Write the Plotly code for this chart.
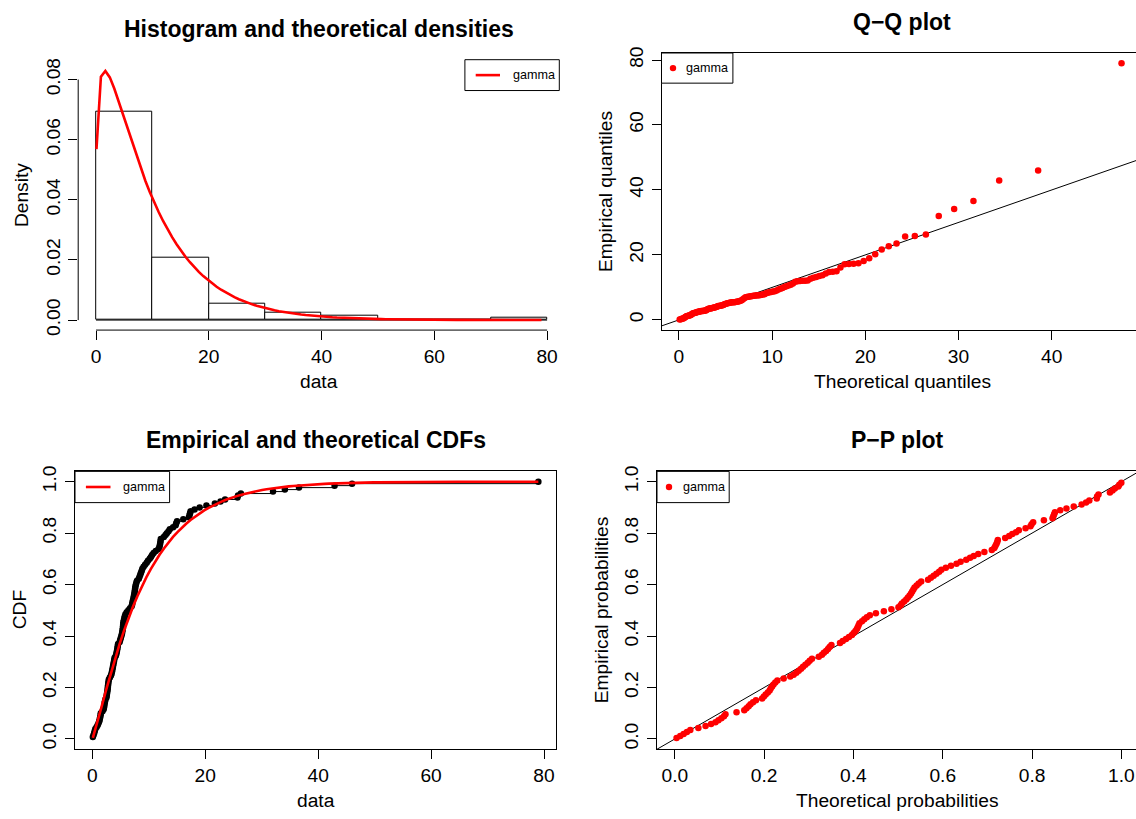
import math
import numpy as np
import plotly.graph_objects as go

# ---------------- data (sorted sample, n = 130) ----------------
data = [0.08, 0.21, 0.32, 0.42, 0.52, 0.75, 0.95, 1.10, 1.22, 1.30,
        1.38, 1.45, 1.49, 1.79, 2.00, 2.06, 2.12, 2.17, 2.24, 2.32,
        2.49, 2.54, 2.59, 2.65, 2.70, 2.73, 2.77, 2.81, 2.86, 2.92,
        3.10, 3.29, 3.39, 3.47, 3.54, 3.61, 3.67, 3.74, 3.81, 3.87,
        3.94, 4.15, 4.25, 4.31, 4.38, 4.44, 4.49, 4.55, 4.83, 4.92,
        5.03, 5.13, 5.23, 5.29, 5.35, 5.40, 5.43, 5.46, 5.49, 5.58,
        5.66, 5.75, 5.86, 6.08, 6.38, 6.67, 6.95, 7.04, 7.09, 7.18,
        7.27, 7.34, 7.41, 7.47, 7.52, 7.57, 7.62, 7.71, 7.80, 7.91,
        8.22, 8.35, 8.48, 8.61, 8.74, 8.85, 9.07, 9.33, 9.62, 9.84,
        10.15, 10.37, 10.58, 10.85, 11.23, 11.71, 11.88, 11.95, 12.02, 12.08,
        12.12, 12.65, 12.95, 13.19, 13.49, 13.72, 14.30, 14.75, 14.85, 15.00,
        16.10, 17.10, 17.20, 17.30, 17.40, 18.10, 19.00, 20.20, 21.70, 22.70,
        23.50, 25.70, 25.80, 26.30, 32.00, 34.10, 36.60, 42.90, 46.00, 79.00]

# fitted gamma parameters
shape_hat = 1.19
rate_hat = 0.1266

hist_breaks = [0, 10, 20, 30, 40, 50, 60, 70, 80]
legend_label = "gamma"

titles = ["Histogram and theoretical densities", "Q\u2212Q plot",
          "Empirical and theoretical CDFs", "P\u2212P plot"]
xlabels = ["data", "Theoretical quantiles", "data", "Theoretical probabilities"]
ylabels = ["Density", "Empirical quantiles", "CDF", "Empirical probabilities"]

ticks1x = [0, 20, 40, 60, 80]
ticks1y = [0.00, 0.02, 0.04, 0.06, 0.08]
ticks2x = [0, 10, 20, 30, 40]
ticks2y = [0, 20, 40, 60, 80]
ticks3x = [0, 20, 40, 60, 80]
ticks3y = [0.0, 0.2, 0.4, 0.6, 0.8, 1.0]
ticks4x = [0.0, 0.2, 0.4, 0.6, 0.8, 1.0]
ticks4y = [0.0, 0.2, 0.4, 0.6, 0.8, 1.0]


# ---------------- gamma distribution helpers ----------------
def reg_lower_gamma(a, x):
    if x <= 0:
        return 0.0
    gln = math.lgamma(a)
    if x < a + 1.0:
        ap = a
        term = 1.0 / a
        s = term
        for _ in range(1000):
            ap += 1.0
            term *= x / ap
            s += term
            if abs(term) < abs(s) * 1e-15:
                break
        return s * math.exp(-x + a * math.log(x) - gln)
    fpmin = 1e-300
    b = x + 1.0 - a
    c = 1.0 / fpmin
    d = 1.0 / b
    h = d
    for i in range(1, 1000):
        an = -i * (i - a)
        b += 2.0
        d = an * d + b
        if abs(d) < fpmin:
            d = fpmin
        c = b + an / c
        if abs(c) < fpmin:
            c = fpmin
        d = 1.0 / d
        dl = d * c
        h *= dl
        if abs(dl - 1.0) < 1e-15:
            break
    return 1.0 - math.exp(-x + a * math.log(x) - gln) * h


def gamma_cdf(x):
    return reg_lower_gamma(shape_hat, rate_hat * x)


def gamma_pdf(x):
    if x <= 0:
        return 0.0
    z = rate_hat * x
    return rate_hat * math.exp((shape_hat - 1) * math.log(z) - z - math.lgamma(shape_hat))


def gamma_ppf(p):
    lo, hi = 0.0, 2000.0
    for _ in range(200):
        mid = 0.5 * (lo + hi)
        if gamma_cdf(mid) < p:
            lo = mid
        else:
            hi = mid
    return 0.5 * (lo + hi)


xs = sorted(data)
n = len(xs)
ppts = [(i + 0.5) / n for i in range(n)]          # ppoints(n)
theo_q = [gamma_ppf(p) for p in ppts]
theo_p = [gamma_cdf(v) for v in xs]
ecdf_y = [(i + 1) / n for i in range(n)]

curve_x = list(np.linspace(min(xs), max(xs), 101))
curve_pdf = [gamma_pdf(v) for v in curve_x]
curve_cdf = [gamma_cdf(v) for v in curve_x]

counts, edges = np.histogram(xs, bins=hist_breaks)
widths = np.diff(edges)
dens = counts / (n * widths)
centers = (edges[:-1] + edges[1:]) / 2

# ecdf horizontal steps
step_x, step_y = [], []
for i in range(n - 1):
    step_x += [xs[i], xs[i + 1], None]
    step_y += [ecdf_y[i], ecdf_y[i], None]

# ---------------- geometry ----------------
W, H = 1136, 819
FONT = "Liberation Sans, Arial, Helvetica, sans-serif"
RED = "#FF0000"

# pixel boxes: (left, right, top, bottom)
P = {
    1: (78.2, 559.3, 54.5, 328.9),
    2: (661.5, 1136.0, 47.7, 328.7),
    3: (75.0, 556.2, 472.3, 754.3),
    4: (657.0, 1136.0, 472.3, 754.3),
}
RANGES = {
    1: ([-3.16, 82.16], [-0.00333, 0.0866]),
    2: ([-1.87, 49.04], [-3.08, 82.16]),
    3: ([-3.08, 82.16], [-0.04, 1.04]),
    4: ([-0.04, 1.0328], [-0.04, 1.04]),
}


def px(x):
    return x / W


def py(y):
    return 1 - y / H


fig = go.Figure()

# panel 1: histogram + density
fig.add_trace(go.Bar(x=centers, y=dens, width=widths, marker=dict(color="white",
                     line=dict(color="black", width=1)), xaxis="x", yaxis="y",
                     showlegend=False, hoverinfo="skip"))
fig.add_trace(go.Scatter(x=[edges[0], edges[-1]], y=[0, 0], mode="lines",
                         line=dict(color="black", width=1), xaxis="x", yaxis="y",
                         showlegend=False, hoverinfo="skip"))
fig.add_trace(go.Scatter(x=curve_x, y=curve_pdf, mode="lines",
                         line=dict(color=RED, width=2.6), xaxis="x", yaxis="y",
                         showlegend=False))

# panel 2: Q-Q
xr2 = RANGES[2][0]
fig.add_trace(go.Scatter(x=xr2, y=xr2, mode="lines", line=dict(color="black", width=1),
                         xaxis="x2", yaxis="y2", showlegend=False, hoverinfo="skip"))
fig.add_trace(go.Scatter(x=theo_q, y=xs, mode="markers",
                         marker=dict(color=RED, size=6.5, line=dict(width=0)),
                         xaxis="x2", yaxis="y2", showlegend=False))

# panel 3: CDF
fig.add_trace(go.Scatter(x=step_x, y=step_y, mode="lines", line=dict(color="black", width=1),
                         xaxis="x3", yaxis="y3", showlegend=False, hoverinfo="skip"))
fig.add_trace(go.Scatter(x=xs, y=ecdf_y, mode="markers",
                         marker=dict(color="black", size=6.5, line=dict(width=0)),
                         xaxis="x3", yaxis="y3", showlegend=False))
fig.add_trace(go.Scatter(x=curve_x, y=curve_cdf, mode="lines",
                         line=dict(color=RED, width=2.6), xaxis="x3", yaxis="y3",
                         showlegend=False))

# panel 4: P-P
xr4 = RANGES[4][0]
fig.add_trace(go.Scatter(x=xr4, y=xr4, mode="lines", line=dict(color="black", width=1),
                         xaxis="x4", yaxis="y4", showlegend=False, hoverinfo="skip"))
fig.add_trace(go.Scatter(x=theo_p, y=ppts, mode="markers",
                         marker=dict(color=RED, size=6.5, line=dict(width=0)),
                         xaxis="x4", yaxis="y4", showlegend=False))


def axis_common(**kw):
    d = dict(ticks="outside", ticklen=9, tickwidth=1, tickcolor="black",
             showgrid=False, zeroline=False, linecolor="black", linewidth=1,
             tickfont=dict(family=FONT, size=19.2, color="black"),
             tickmode="array", fixedrange=True)
    d.update(kw)
    return d


layout = dict(width=W, height=H, margin=dict(l=0, r=0, t=0, b=0), autosize=False,
              paper_bgcolor="white", plot_bgcolor="white", bargap=0,
              font=dict(family=FONT, color="black"))

tick_sets = {1: (ticks1x, ticks1y, ".2f"), 2: (ticks2x, ticks2y, "d"),
             3: (ticks3x, ticks3y, ".1f"), 4: (ticks4x, ticks4y, ".1f")}
xfmt = {1: "d", 2: "d", 3: "d", 4: ".1f"}

for k in range(1, 5):
    l, r, t, b = P[k]
    xr, yr = RANGES[k]
    tx, ty, yf = tick_sets[k]
    xname = "xaxis" if k == 1 else f"xaxis{k}"
    yname = "yaxis" if k == 1 else f"yaxis{k}"
    xa = "x" if k == 1 else f"x{k}"
    ya = "y" if k == 1 else f"y{k}"
    showbox = k != 1
    layout[xname] = axis_common(domain=[px(l), px(r)], range=xr, anchor=ya,
                                tickvals=tx, tickformat=xfmt[k],
                                showline=showbox, mirror=showbox,
                                ticklabelstandoff=0)
    layout[yname] = axis_common(domain=[py(b), py(t)], range=yr, anchor=xa,
                                tickvals=ty, tickformat=yf, tickangle=-90,
                                showline=showbox, mirror=(k == 3),
                                ticklabelstandoff=1)

fig.update_layout(**layout)

shapes = []
# panel 1 axis lines only spanning the ticks
shapes.append(dict(type="line", xref="x", yref="y domain", x0=ticks1x[0], x1=ticks1x[-1],
                   y0=0, y1=0, line=dict(color="black", width=1)))
shapes.append(dict(type="line", xref="x domain", yref="y", x0=0, x1=0,
                   y0=ticks1y[0], y1=ticks1y[-1], line=dict(color="black", width=1)))

annotations = []
for k in range(1, 5):
    l, r, t, b = P[k]
    cx = (l + r) / 2 if k in (1, 3) else (l + (l + 481)) / 2
    annotations.append(dict(text=titles[k - 1], x=px(cx), y=py(t - 31.5), xref="paper",
                            yref="paper", xanchor="center", yanchor="middle", showarrow=False,
                            font=dict(family=FONT, size=23, color="black", weight="bold")))
    annotations.append(dict(text=xlabels[k - 1], x=px(cx), y=py(b + 52), xref="paper",
                            yref="paper", xanchor="center", yanchor="middle", showarrow=False,
                            font=dict(family=FONT, size=19.2, color="black")))
    annotations.append(dict(text=ylabels[k - 1], x=px(l - 56), y=py((t + b) / 2), xref="paper",
                            yref="paper", xanchor="center", yanchor="middle", showarrow=False,
                            textangle=-90,
                            font=dict(family=FONT, size=19.2, color="black")))

# legends: (box l, r, t, b, kind, glyph x0, glyph x1, text x)
legends = [
    (464.9, 559.3, 54.5, 85.8, "line", 475.7, 500.0, 510.5),
    (661.5, 732.9, 47.7, 78.3, "dot", 673.0, 673.0, 684.0),
    (75.0, 169.6, 472.3, 504.0, "line", 85.9, 110.5, 121.0),
    (657.0, 729.2, 472.3, 504.0, "dot", 669.0, 669.0, 680.5),
]
for (bl, br, bt, bb, kind, g0, g1, tx) in legends:
    cy = (bt + bb) / 2
    shapes.append(dict(type="rect", xref="paper", yref="paper", x0=px(bl), x1=px(br),
                       y0=py(bb), y1=py(bt), line=dict(color="black", width=1),
                       fillcolor="white", layer="above"))
    if kind == "line":
        shapes.append(dict(type="line", xref="paper", yref="paper", x0=px(g0), x1=px(g1),
                           y0=py(cy), y1=py(cy), line=dict(color=RED, width=2.6),
                           layer="above"))
    else:
        shapes.append(dict(type="circle", xref="paper", yref="paper", xsizemode="pixel",
                           ysizemode="pixel", xanchor=px(g0), yanchor=py(cy),
                           x0=-3.2, x1=3.2, y0=-3.2, y1=3.2, fillcolor=RED,
                           line=dict(width=0), layer="above"))
    annotations.append(dict(text=legend_label, x=px(tx), y=py(cy), xref="paper", yref="paper",
                            xanchor="left", yanchor="middle", showarrow=False,
                            font=dict(family=FONT, size=12.6, color="black")))

fig.update_layout(shapes=shapes, annotations=annotations)
fig.write_html("out.html", config={"displayModeBar": False},
               post_script="document.body.style.margin='0';document.body.style.overflow='hidden';")
